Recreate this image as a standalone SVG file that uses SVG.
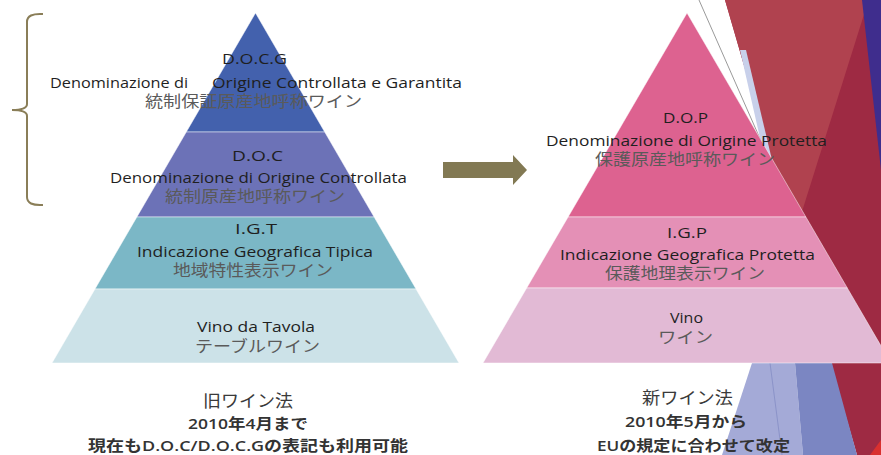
<svg xmlns="http://www.w3.org/2000/svg" width="881" height="455" viewBox="0 0 881 455">
<style>
.lt{font-family:"Open Sans","Noto Sans CJK JP",sans-serif;font-size:15px;fill:#1f1f1f;font-weight:500}
.jp{font-family:"Liberation Sans","Noto Sans CJK JP",sans-serif;font-size:16px;fill:#5a5a5a}
.bt{font-family:"Open Sans","Noto Sans CJK JP",sans-serif;font-size:15px;fill:#333;font-weight:600}
.bj{font-family:"Noto Sans CJK JP",sans-serif;font-size:17px;fill:#3a3a3a}
.band{stroke:#ffffff;stroke-width:0.8;stroke-opacity:0.6}
</style>
<rect width="881" height="455" fill="#ffffff"/>
<g id="decoration">
  <polygon points="725,0 881,0 881,455 857,455" fill="#9E2A43"/>
  <polygon points="725,0 862,0 866,8 794,237" fill="#B0424F"/>
  <polygon points="862,0 881,0 881,170" fill="#3F2D8D"/>
  <polygon points="870,455 881,440 881,455" fill="#D9302F"/>
  <polygon points="740,50 746,50 772,160 765,160" fill="#C8D0EA"/>
  <line x1="699" y1="0" x2="765" y2="150" stroke="#9a9a9a" stroke-width="1"/>
  <polygon points="752,363 795,363 803,455 722,455" fill="#A4AAD7"/>
  <line x1="770" y1="363" x2="782" y2="455" stroke="#8B93C8" stroke-width="1"/>
  <polygon points="795,363 832,363 857,455 803,455" fill="#7B86C2"/>
</g>
<g id="docg">
  <polygon class="band" points="255.5,13 324.7,132 186.3,132" fill="#4361AD"/>
  <text class="lt" x="222" y="63.5" textLength="65" lengthAdjust="spacingAndGlyphs">D.O.C.G</text>
  <text class="lt" x="50" y="87.5" textLength="138" lengthAdjust="spacingAndGlyphs">Denominazione di</text>
  <text class="lt" x="212" y="87.5" textLength="250" lengthAdjust="spacingAndGlyphs">Origine Controllata e Garantita</text>
  <text class="jp" x="145" y="107" textLength="217" lengthAdjust="spacingAndGlyphs">統制保証原産地呼称ワイン</text>
</g>
<g id="doc">
  <polygon class="band" points="186.3,132 324.7,132 374.1,217 136.9,217" fill="#6C72B7"/>
  <text class="lt" x="232" y="160.5" textLength="51" lengthAdjust="spacingAndGlyphs">D.O.C</text>
  <text class="lt" x="110" y="182.5" textLength="297" lengthAdjust="spacingAndGlyphs">Denominazione di Origine Controllata</text>
  <text class="jp" x="165" y="202" textLength="180" lengthAdjust="spacingAndGlyphs">統制原産地呼称ワイン</text>
</g>
<g id="igt">
  <polygon class="band" points="136.9,217 374.1,217 416,289 95,289" fill="#7BB7C6"/>
  <text class="lt" x="235" y="233.5" textLength="42" lengthAdjust="spacingAndGlyphs">I.G.T</text>
  <text class="lt" x="137" y="256.5" textLength="236" lengthAdjust="spacingAndGlyphs">Indicazione Geografica Tipica</text>
  <text class="jp" x="173" y="276" textLength="160" lengthAdjust="spacingAndGlyphs">地域特性表示ワイン</text>
</g>
<g id="vino-da-tavola">
  <polygon class="band" points="95,289 416,289 459,363 52,363" fill="#CCE2E8"/>
  <text class="lt" x="197" y="332" textLength="118" lengthAdjust="spacingAndGlyphs">Vino da Tavola</text>
  <text class="jp" x="195" y="352" textLength="125" lengthAdjust="spacingAndGlyphs">テーブルワイン</text>
</g>
<g id="dop">
  <polygon class="band" points="687,13 805.9,217 568.1,217" fill="#DD6290"/>
  <text class="lt" x="663" y="122.5" textLength="45" lengthAdjust="spacingAndGlyphs">D.O.P</text>
  <text class="lt" x="546" y="145.5" textLength="281" lengthAdjust="spacingAndGlyphs">Denominazione di Origine Protetta</text>
  <text class="jp" x="595" y="165" textLength="180" lengthAdjust="spacingAndGlyphs">保護原産地呼称ワイン</text>
</g>
<g id="igp">
  <polygon class="band" points="568.1,217 805.9,217 847.3,288 526.7,288" fill="#E490B6"/>
  <text class="lt" x="667" y="237.5" textLength="40" lengthAdjust="spacingAndGlyphs">I.G.P</text>
  <text class="lt" x="560" y="259.5" textLength="255" lengthAdjust="spacingAndGlyphs">Indicazione Geografica Protetta</text>
  <text class="jp" x="605" y="279" textLength="160" lengthAdjust="spacingAndGlyphs">保護地理表示ワイン</text>
</g>
<g id="vino">
  <polygon class="band" points="526.7,288 847.3,288 891,363 483,363" fill="#E2BAD5"/>
  <text class="lt" x="670" y="323" textLength="33" lengthAdjust="spacingAndGlyphs">Vino</text>
  <text class="jp" x="658" y="343" textLength="55" lengthAdjust="spacingAndGlyphs">ワイン</text>
</g>
<g id="old-law">
  <text class="bj" x="203" y="406.5" textLength="90" lengthAdjust="spacingAndGlyphs">旧ワイン法</text>
  <text class="bt" x="188" y="428.5" textLength="120" lengthAdjust="spacingAndGlyphs">2010年4月まで</text>
  <text class="bt" x="88" y="450.5" textLength="320" lengthAdjust="spacingAndGlyphs">現在もD.O.C/D.O.C.Gの表記も利用可能</text>
</g>
<g id="new-law">
  <text class="bj" x="642" y="403.5" textLength="91" lengthAdjust="spacingAndGlyphs">新ワイン法</text>
  <text class="bt" x="625" y="426.5" textLength="122" lengthAdjust="spacingAndGlyphs">2010年5月から</text>
  <text class="bt" x="597" y="450.5" textLength="193" lengthAdjust="spacingAndGlyphs">EUの規定に合わせて改定</text>
</g>
<g id="connectors">
  <path d="M43,14 Q27,13 27,22 L27,104 Q27,110 12,110 Q27,110 27,116 L27,197 Q27,206 43,205" fill="none" stroke="#8A7E58" stroke-width="2"/>
  <polygon points="443,162 513,162 513,155 527,170 513,185 513,178 443,178" fill="#827953"/>
</g>
</svg>
